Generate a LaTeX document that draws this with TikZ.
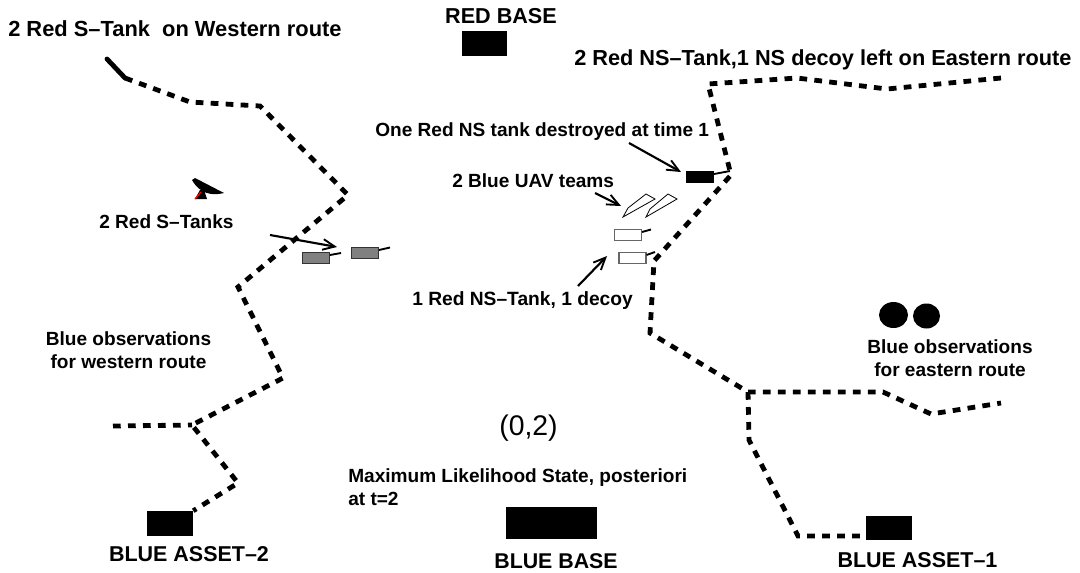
\documentclass[tikz,border=0pt]{standalone}
\usepackage{fontspec}
\setmainfont{Liberation Sans}
\usetikzlibrary{arrows.meta,shapes.geometric}
\tikzset{
  lab/.style={font=\fontsize{#1}{#1}\selectfont\bfseries,inner sep=0pt,anchor=west},
  block/.style={fill=black,draw=none,inner sep=0pt,minimum width=#1*0.75pt},
  tank/.style={draw=#1,line width=0.8pt,inner sep=0pt,minimum width=27*0.75pt,minimum height=11.5*0.75pt},
  barrel/.style={line width=1.4pt},
  route/.style={line width=3.6pt,dash pattern=on 5.8pt off 5.45pt},
  pointer/.style={line width=1.6pt,-{Straight Barb[length=9pt,width=8pt,line width=1.4pt]}},
  uav/.style={draw=black,line width=0.6pt,fill=white},
}
\begin{document}
\begin{tikzpicture}[x=0.75pt,y=-0.75pt]
\useasboundingbox (0,0) rectangle (1080,572);
% blocks
\node[block=45,minimum height=25*0.75pt] (redbase) at (484.5,43.5) {};
\node[block=46,minimum height=25*0.75pt] (asset2) at (170,523.5) {};
\node[block=91,minimum height=32*0.75pt] (bluebase) at (551.5,523) {};
\node[block=46,minimum height=24*0.75pt] (asset1) at (889,528) {};
% tanks
\node[tank=black!80,fill=black!50] (g1) at (316,258) {};
\node[tank=black!80,fill=black!50] (g2) at (365,253) {};
\node[tank=black,fill=black] (bt) at (700,177) {};
\node[tank=black!60,fill=white] (w1) at (628,235) {};
\node[tank=black!60,fill=white] (w2) at (632.5,258) {};
\coordinate (g1b) at (341,253);
\coordinate (g2b) at (390,247.5);
\coordinate (btb) at (730,171);
\coordinate (w1b) at (651,229.5);
\coordinate (w2b) at (655,252);
\draw[barrel] (g1.east |- 0,255) -- (g1b);
\draw[barrel] (g2.east |- 0,250) -- (g2b);
\draw[barrel] (bt.east |- 0,174) -- (btb);
\draw[barrel] (w1.east |- 0,232) -- (w1b);
\draw[barrel] (w2.east |- 0,255) -- (w2b);
% UAVs
\draw[uav] (623,217) -- (628,208) -- (646,194) -- (655,199) -- cycle;
\draw[uav] (646,217) -- (650,209) -- (668,194) -- (677,199) -- cycle;
% antenna
\fill (192,180) -- (195,178) -- (224,193) .. controls (212,196) and (200,194) .. (192,180) -- cycle;
\fill (195,199) -- (207,199) -- (204,190) -- (200,190) -- cycle;
\draw[red,line width=1pt] (195,199) -- (201,192);
% observations
\node[fill=black,ellipse,inner sep=0pt,minimum width=29*0.75pt,minimum height=26*0.75pt] (o1) at (893.5,315) {};
\node[fill=black,ellipse,inner sep=0pt,minimum width=27*0.75pt,minimum height=25*0.75pt] (o2) at (926.5,316) {};
% western route
\coordinate (wa) at (107,59);
\coordinate (wb) at (125,78);
\coordinate (wc) at (190,102);
\coordinate (wd) at (260,106);
\coordinate (we) at (348,195);
\coordinate (wf) at (238,287);
\coordinate (wg) at (283,378);
\coordinate (wh) at (192,425);
\coordinate (wi) at (113,426);
\coordinate (wj) at (238,483);
\draw[line width=3.6pt,line cap=round] (wa) -- (wb);
\draw[route] (wb) -- (wc) -- (wd) -- (we) -- (wf) -- (wg) -- (wh) -- (wj) -- (asset2.north east);
\draw[route] (wi) -- (wh);
% eastern route
\coordinate (ea) at (1001,78);
\coordinate (eb) at (887,89);
\coordinate (ec) at (797,78);
\coordinate (ed) at (708,84);
\coordinate (ee) at (731,175);
\coordinate (ef) at (654,261);
\coordinate (eg) at (650,333);
\coordinate (eh) at (748,392);
\coordinate (ei) at (883,392);
\coordinate (ej) at (931,414);
\coordinate (ek) at (1001,403);
\coordinate (el) at (749,440);
\coordinate (em) at (798,536);
\draw[route] (ea) -- (eb) -- (ec) -- (ed) -- (ee) -- (ef) -- (eg) -- (eh) -- (ei) -- (ej) -- (ek);
\draw[route] (eh) -- (el) -- (em) -- (asset1.west |- em);
% pointers
\coordinate (pa) at (629,143);
\coordinate (pb) at (595,193);
\coordinate (pc) at (578,286);
\coordinate (pd) at (270,235);
\coordinate (pat) at (681,172);
\coordinate (pbt) at (621,206);
\coordinate (pct) at (607,256);
\coordinate (pdt) at (337,247);
\draw[pointer] (pa) -- (pat);
\draw[pointer] (pb) -- (pbt);
\draw[pointer] (pc) -- (pct);
\draw[pointer] (pd) -- (pdt);
% labels
\node[lab=16.4] (t1) at (8,29) {2 Red S–Tank\ \ on Western route};
\node[lab=16.2,anchor=center] (t2) at (501,16) {RED BASE};
\node[lab=16.3] (t3) at (574,60) {2 Red NS–Tank,1 NS decoy left on Eastern route};
\node[lab=14.3] (t4) at (375,132) {One Red NS tank destroyed at time 1};
\node[lab=14.3] (t5) at (452,181) {2 Blue UAV teams};
\node[lab=14.3] (t6) at (99,222) {2 Red S–Tanks};
\node[lab=14.4] (t7) at (412,301) {1 Red NS–Tank, 1 decoy};
\node[lab=14.3,anchor=center,align=center] (t8) at (128.5,350) {Blue observations\\[3pt]for western route};
\node[lab=14.3,anchor=center,align=center] (t9) at (950,358) {Blue observations\\[3pt]for eastern route};
\node[font=\fontsize{21.3}{21.3}\selectfont,inner sep=0pt] (t10) at (528.5,428) {(0,2)};
\node[lab=14.3,align=left] (t11) at (348,487) {Maximum Likelihood State, posteriori\\[3pt]at t=2};
\node[lab=16.1,anchor=center] (t12) at (189,554) {BLUE ASSET–2};
\node[lab=16,anchor=center] (t13) at (556,561) {BLUE BASE};
\node[lab=16.1,anchor=center] (t14) at (917.5,560) {BLUE ASSET–1};
\end{tikzpicture}
\end{document}
